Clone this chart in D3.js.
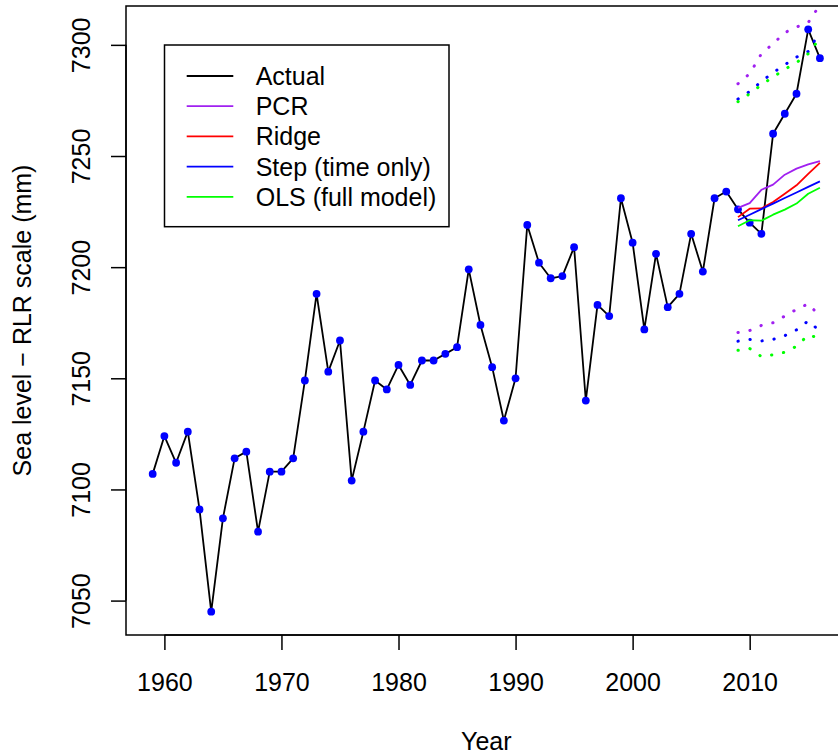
<!DOCTYPE html>
<html>
<head>
<meta charset="utf-8">
<script src="https://cdn.jsdelivr.net/npm/d3@7"></script>
<style>
  html, body { margin: 0; padding: 0; background: #fff; }
  svg { display: block; font-family: "Liberation Sans", Arial, Helvetica, sans-serif; }
</style>
</head>
<body>
<svg id="chart" width="838" height="756"></svg>
<script>
// Observed annual mean sea level (RLR scale, mm)
const years = d3.range(1959, 2017);
const actual = [
  7107, 7124, 7112, 7126, 7091, 7045, 7087, 7114, 7117, 7081,
  7108, 7108, 7114, 7149, 7188, 7153, 7167, 7104, 7126, 7149,
  7145, 7156, 7147, 7158, 7158, 7161, 7164, 7199, 7174, 7155,
  7131, 7150, 7219, 7202, 7195, 7196, 7209, 7140, 7183, 7178,
  7231, 7211, 7172, 7206, 7182, 7188, 7215, 7198, 7231, 7234,
  7226, 7220, 7215, 7260, 7269, 7278, 7307, 7294
];

// Hold-out forecasts, 2009-2016
const predYears = d3.range(2009, 2017);
const pcrFit   = [7226.7, 7228.8, 7234.8, 7237.1, 7241.6, 7244.3, 7246.2, 7247.7];
const pcrLower = [7170.6, 7171.5, 7173.8, 7175.0, 7178.0, 7181.0, 7183.5, 7178.0];
const pcrUpper = [7282.5, 7287.0, 7296.0, 7300.5, 7305.5, 7308.0, 7310.0, 7318.0];
const ridgeFit = [7222.5, 7226.3, 7226.4, 7229.3, 7233.0, 7236.8, 7242.0, 7246.9];
const stepFit   = [7221.1, 7223.6, 7226.1, 7228.6, 7231.1, 7233.6, 7236.1, 7238.6];
const stepLower = [7166.7, 7167.5, 7166.8, 7167.5, 7169.2, 7171.8, 7175.8, 7171.2];
const stepUpper = [7275.6, 7279.0, 7283.5, 7287.5, 7291.0, 7294.5, 7297.0, 7306.0];
const olsFit   = [7218.4, 7221.1, 7220.9, 7223.6, 7225.9, 7228.6, 7233.0, 7235.7];
const olsLower = [7162.6, 7163.4, 7159.8, 7160.6, 7161.7, 7164.4, 7169.5, 7168.0];
const olsUpper = [7274.4, 7278.0, 7282.0, 7285.5, 7289.0, 7292.0, 7296.0, 7303.0];

const xTicks = [1960, 1970, 1980, 1990, 2000, 2010];
const yTicks = [7050, 7100, 7150, 7200, 7250, 7300];

const legendLabels = ["Actual", "PCR", "Ridge", "Step (time only)", "OLS (full model)"];
const legendColors = ["#000000", "#A020F0", "#FF0000", "#0000FF", "#00FF00"];

const svg = d3.select("#chart");
const FONT = 25;
const plot = { left: 126, right: 846.6, top: 6, bottom: 635 };

// Axis ranges padded by 4% of the observed extent on each side
const xExt = d3.extent(years);
const xPad = (xExt[1] - xExt[0]) * 0.04;
const yExt = d3.extent(actual);
const yPad = (yExt[1] - yExt[0]) * 0.04;

const x = d3.scaleLinear().domain([xExt[0] - xPad, xExt[1] + xPad]).range([plot.left, plot.right]);
const y = d3.scaleLinear().domain([yExt[0] - yPad, yExt[1] + yPad]).range([plot.bottom, plot.top]);

svg.append("defs").append("clipPath").attr("id", "plotClip")
  .append("rect")
  .attr("x", plot.left).attr("y", plot.top)
  .attr("width", plot.right - plot.left).attr("height", plot.bottom - plot.top);

const inner = svg.append("g").attr("clip-path", "url(#plotClip)");

const line = d3.line().x(d => x(d[0])).y(d => y(d[1]));
const pairs = (xs, vs) => xs.map((v, i) => [v, vs[i]]);

// Observed series
inner.append("path")
  .attr("d", line(pairs(years, actual)))
  .attr("fill", "none").attr("stroke", "#000").attr("stroke-width", 1.8)
  .attr("stroke-linejoin", "round");

inner.selectAll("circle.obs").data(pairs(years, actual)).join("circle")
  .attr("class", "obs")
  .attr("cx", d => x(d[0])).attr("cy", d => y(d[1]))
  .attr("r", 3.9).attr("fill", "#0000FF");

// Forecast lines
const fits = [
  [pcrFit, "#A020F0"],
  [ridgeFit, "#FF0000"],
  [stepFit, "#0000FF"],
  [olsFit, "#00FF00"]
];
fits.forEach(([vals, col]) => {
  inner.append("path")
    .attr("d", line(pairs(predYears, vals)))
    .attr("fill", "none").attr("stroke", col).attr("stroke-width", 1.8)
    .attr("stroke-linejoin", "round");
});

// Prediction intervals (dotted)
const bands = [
  [pcrLower, "#A020F0"], [pcrUpper, "#A020F0"],
  [stepLower, "#0000FF"], [stepUpper, "#0000FF"],
  [olsLower, "#00FF00"], [olsUpper, "#00FF00"]
];
bands.forEach(([vals, col]) => {
  inner.append("path")
    .attr("d", line(pairs(predYears, vals)))
    .attr("fill", "none").attr("stroke", col).attr("stroke-width", 3)
    .attr("stroke-linecap", "round")
    .attr("stroke-dasharray", "0.3 11.8");
});

// Plot frame
svg.append("rect")
  .attr("x", plot.left).attr("y", plot.top)
  .attr("width", plot.right - plot.left).attr("height", plot.bottom - plot.top)
  .attr("fill", "none").attr("stroke", "#000").attr("stroke-width", 1.5);

// X axis
const xAxis = svg.append("g")
  .attr("transform", `translate(0,${plot.bottom})`)
  .call(d3.axisBottom(x).tickValues(xTicks).tickFormat(d3.format("d")).tickSize(15).tickSizeOuter(0));
xAxis.select(".domain")
  .attr("d", `M${x(xTicks[0])},0H${x(xTicks[xTicks.length - 1])}`)
  .attr("stroke-width", 1.5);
xAxis.selectAll(".tick line").attr("stroke-width", 1.5);
xAxis.selectAll(".tick text")
  .attr("y", 55.5).attr("dy", null)
  .attr("font-size", FONT).attr("font-family", "Liberation Sans, Arial, sans-serif").attr("fill", "#000");

// Y axis
const yAxis = svg.append("g")
  .attr("transform", `translate(${plot.left},0)`)
  .call(d3.axisLeft(y).tickValues(yTicks).tickFormat(d3.format("d")).tickSize(15).tickSizeOuter(0));
yAxis.select(".domain")
  .attr("d", `M0,${y(yTicks[0])}V${y(yTicks[yTicks.length - 1])}`)
  .attr("stroke-width", 1.5);
yAxis.selectAll(".tick line").attr("stroke-width", 1.5);
yAxis.selectAll(".tick text")
  .attr("x", null).attr("dy", null)
  .attr("transform", "translate(-36,0) rotate(-90)")
  .attr("text-anchor", "middle")
  .attr("font-size", FONT).attr("font-family", "Liberation Sans, Arial, sans-serif").attr("fill", "#000");

// Axis titles
svg.append("text")
  .attr("x", (plot.left + plot.right) / 2).attr("y", 750)
  .attr("text-anchor", "middle").attr("font-size", FONT)
  .text("Year");

svg.append("text")
  .attr("transform", `translate(31,${(plot.top + plot.bottom) / 2}) rotate(-90)`)
  .attr("text-anchor", "middle").attr("font-size", FONT)
  .text("Sea level \u2212 RLR scale (mm)");

// Legend
const lg = svg.append("g");
lg.append("rect")
  .attr("x", 164.5).attr("y", 45)
  .attr("width", 449 - 164.5).attr("height", 226.7 - 45)
  .attr("fill", "#fff").attr("stroke", "#000").attr("stroke-width", 1.5);
legendLabels.forEach((lab, i) => {
  const ry = 76 + i * 30.2;
  lg.append("line")
    .attr("x1", 186.7).attr("x2", 233.3).attr("y1", ry).attr("y2", ry)
    .attr("stroke", legendColors[i]).attr("stroke-width", 1.8);
  lg.append("text")
    .attr("x", 255.7).attr("y", ry + 9)
    .attr("font-size", FONT).text(lab);
});
</script>
</body>
</html>
